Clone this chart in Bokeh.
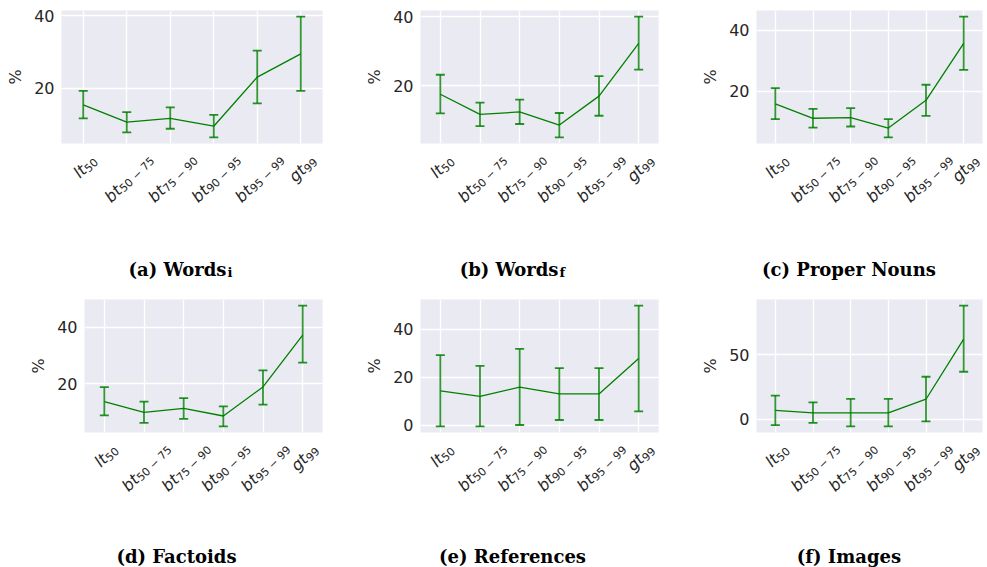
import math
from bokeh.plotting import figure
from bokeh.layouts import row, column
from bokeh.models import Range1d, FixedTicker, Grid
from bokeh.core.properties import value
from bokeh.embed import file_html
from bokeh.resources import INLINE

# ---------------- data ----------------
categories = ["lt50", "bt50-75", "bt75-90", "bt90-95", "bt95-99", "gt99"]
tick_main = ["lt", "bt", "bt", "bt", "bt", "gt"]
tick_sub = ["50", "50 \u2212 75", "75 \u2212 90", "90 \u2212 95", "95 \u2212 99", "99"]

words_i_mean = [15.5, 10.7, 11.75, 9.6, 23.1, 29.5]
words_i_lo = [11.75, 7.9, 8.9, 6.5, 15.9, 19.35]
words_i_hi = [19.35, 13.5, 14.8, 12.7, 30.4, 39.8]
words_i_ticks = [20, 40]

words_f_mean = [17.55, 11.7, 12.4, 8.6, 17.0, 32.3]
words_f_lo = [12.0, 8.3, 8.9, 5.0, 11.3, 24.7]
words_f_hi = [23.2, 15.1, 16.0, 12.1, 22.8, 40.1]
words_f_ticks = [20, 40]

proper_mean = [15.8, 11.1, 11.3, 7.9, 17.0, 35.7]
proper_lo = [10.8, 8.0, 8.4, 4.8, 11.9, 27.0]
proper_hi = [21.0, 14.2, 14.4, 10.8, 22.1, 44.5]
proper_ticks = [20, 40]

factoids_mean = [13.7, 9.9, 11.3, 8.6, 18.9, 37.25]
factoids_lo = [8.8, 6.2, 7.6, 4.9, 12.6, 27.5]
factoids_hi = [18.8, 13.7, 14.9, 12.0, 24.75, 47.7]
factoids_ticks = [20, 40]

refs_mean = [14.3, 12.0, 15.8, 13.0, 13.0, 27.8]
refs_lo = [-0.6, -0.6, 0.0, 2.1, 2.1, 5.7]
refs_hi = [29.2, 24.7, 31.8, 23.8, 23.8, 49.9]
refs_ticks = [0, 20, 40]

images_mean = [6.8, 4.9, 4.9, 4.9, 15.4, 62.0]
images_lo = [-4.7, -2.9, -5.7, -5.7, -1.8, 36.7]
images_hi = [18.2, 13.0, 15.6, 15.6, 32.8, 88.0]
images_ticks = [0, 50]

captions = [("(a) Words", "i"), ("(b) Words", "f"), ("(c) Proper Nouns", ""),
            ("(d) Factoids", ""), ("(e) References", ""), ("(f) Images", "")]

# ---------------- styling ----------------
GREEN = "#008000"
BG = "#EAEAF2"
TXT = "#262626"
FONT = "DejaVu Sans"
CAP_FONT = "DejaVu Serif"
MAIN_PX = 16
SUB_PX = 11
BOTTOM = 6   # space kept under each chart frame for its lowest tick label
# approximate advance widths (em) for DejaVu Sans
EM = {"l": 0.28, "t": 0.40, "b": 0.64, "g": 0.64, " ": 0.25,
      "\u2212": 0.84}


def text_w(s, px):
    return sum(EM.get(c, 0.636) for c in s) * px


def blank_fig(width, height, x_range, y_range):
    p = figure(width=width, height=height, x_range=x_range, y_range=y_range,
               x_axis_location=None, y_axis_location=None,
               output_backend="svg", toolbar_location=None,
               min_border_left=0, min_border_right=0,
               min_border_top=0, min_border_bottom=0,
               outline_line_color=None, frame_align=False,
               background_fill_color="white", border_fill_color="white")
    p.grid.visible = False
    return p


def make_chart(mean, lo, hi, yticks, width, left, right, top, frame_h):
    xs = list(range(len(categories)))
    lo_all, hi_all = min(lo), max(hi)
    pad = 0.05 * (hi_all - lo_all)
    p = figure(width=width, height=top + frame_h + BOTTOM,
               x_range=Range1d(-0.5, len(categories) - 0.5),
               y_range=Range1d(lo_all - pad, hi_all + pad),
               x_axis_location=None,
               output_backend="svg", toolbar_location=None,
               min_border_left=left, min_border_right=right,
               min_border_top=top, min_border_bottom=BOTTOM,
               background_fill_color=BG, border_fill_color="white",
               outline_line_color=None, frame_align=False)
    p.add_layout(Grid(dimension=0, ticker=FixedTicker(ticks=xs),
                      grid_line_color="white", grid_line_width=1.3))
    tk = FixedTicker(ticks=yticks)
    p.yaxis.ticker = tk
    p.ygrid.ticker = tk
    p.ygrid.grid_line_color = "white"
    p.ygrid.grid_line_width = 1.3
    ax = p.yaxis[0]
    ax.axis_line_color = None
    ax.major_tick_line_color = None
    ax.minor_tick_line_color = None
    ax.major_tick_out = 0
    ax.major_tick_in = 0
    ax.minor_tick_out = 0
    ax.major_label_text_font = FONT
    ax.major_label_text_font_size = "16px"
    ax.major_label_text_color = TXT
    ax.major_label_standoff = 7
    ax.axis_label = "%"
    ax.axis_label_text_font = FONT
    ax.axis_label_text_font_size = "16px"
    ax.axis_label_text_font_style = "normal"
    ax.axis_label_text_color = TXT
    ax.axis_label_standoff = 6

    p.line(xs, mean, line_color=GREEN, line_width=1.3)
    p.segment(x0=xs, y0=lo, x1=xs, y1=hi, line_color=GREEN,
              line_width=1.8, line_alpha=0.8)
    p.scatter(xs + xs, list(lo) + list(hi), marker="dash", size=9,
              line_color=GREEN, line_width=1.8, line_alpha=0.85)
    return p


def make_labels(width, left, right, frame_w, height):
    n = len(categories)
    upp = n / frame_w           # data units per pixel (x)
    xs = list(range(n))
    p = blank_fig(width, height,
                  Range1d(-0.5 - left * upp, n - 0.5 + right * upp),
                  Range1d(-height, 0))
    c = math.cos(math.pi / 4)
    drop = 3.5
    mx, my, sx, sy = [], [], [], []
    for i in xs:
        wm = text_w(tick_main[i], MAIN_PX) + 1.5
        ws = text_w(tick_sub[i], SUB_PX)
        # join point (baseline) between main text and subscript, pixels rel. to tick
        jx = -c * (ws - wm - 8.5) / 2 - 2
        jy = -(11 - BOTTOM) - max(c * (ws + 4.5), 12 * c)
        mx.append(i + jx * upp)
        my.append(jy)
        sx.append(i + (jx + drop * c) * upp)
        sy.append(jy - drop * c)
    p.text(x=mx, y=my, text=tick_main, angle=math.pi / 4,
           text_align="right", text_baseline="alphabetic",
           text_font=value(FONT), text_font_size=f"{MAIN_PX}px",
           text_font_style="italic", text_color=TXT)
    p.text(x=sx, y=sy, text=tick_sub, angle=math.pi / 4,
           text_align="left", text_baseline="alphabetic",
           text_font=value(FONT), text_font_size=f"{SUB_PX}px",
           text_color=TXT)
    return p


def make_caption(width, height, main, sub, x, y):
    p = blank_fig(width, height, Range1d(0, width), Range1d(0, height))
    if sub:
        p.text(x=[x], y=[y], text=[main], text_align="right",
               text_baseline="alphabetic", text_font=value(CAP_FONT),
               text_font_size="18px", text_font_style="bold", text_color="black")
        p.text(x=[x + 1], y=[y - 3], text=[sub], text_align="left",
               text_baseline="alphabetic", text_font=value(CAP_FONT),
               text_font_size="13px", text_font_style="bold", text_color="black")
    else:
        p.text(x=[x], y=[y], text=[main], text_align="center",
               text_baseline="alphabetic", text_font=value(CAP_FONT),
               text_font_size="18px", text_font_style="bold", text_color="black")
    return p


# column geometry: (width, left border, right border, frame width)
cols_top = [(340, 61, 18, 261), (340, 80, 22, 238), (305, 76, 3, 226)]
cols_bot = [(340, 84, 18, 238), (340, 80, 22, 238), (305, 76, 3, 226)]

series = [(words_i_mean, words_i_lo, words_i_hi, words_i_ticks),
          (words_f_mean, words_f_lo, words_f_hi, words_f_ticks),
          (proper_mean, proper_lo, proper_hi, proper_ticks),
          (factoids_mean, factoids_lo, factoids_hi, factoids_ticks),
          (refs_mean, refs_lo, refs_hi, refs_ticks),
          (images_mean, images_lo, images_hi, images_ticks)]

cap_x_top = [226, 218, 168.5]
cap_x_bot = [176, 172, 168.5]

top_cols = []
for i in range(3):
    w, l, r, fw = cols_top[i]
    m, lo, hi, tk = series[i]
    ch = make_chart(m, lo, hi, tk, w, l, r, 10, 133)
    lb = make_labels(w, l, r, fw, 97 - BOTTOM)
    cp = make_caption(w, 45, captions[i][0], captions[i][1], cap_x_top[i], 16)
    top_cols.append(column(ch, lb, cp, spacing=0))

bot_cols = []
for i in range(3):
    w, l, r, fw = cols_bot[i]
    m, lo, hi, tk = series[3 + i]
    ch = make_chart(m, lo, hi, tk, w, l, r, 14, 133)
    lb = make_labels(w, l, r, fw, 92 - BOTTOM)
    cp = make_caption(w, 43, captions[3 + i][0], captions[3 + i][1], cap_x_bot[i], 11)
    bot_cols.append(column(ch, lb, cp, spacing=0))

layout = column(row(*top_cols, spacing=0), row(*bot_cols, spacing=0), spacing=0)

with open("out.html", "w") as f:
    f.write(file_html(layout, INLINE))
